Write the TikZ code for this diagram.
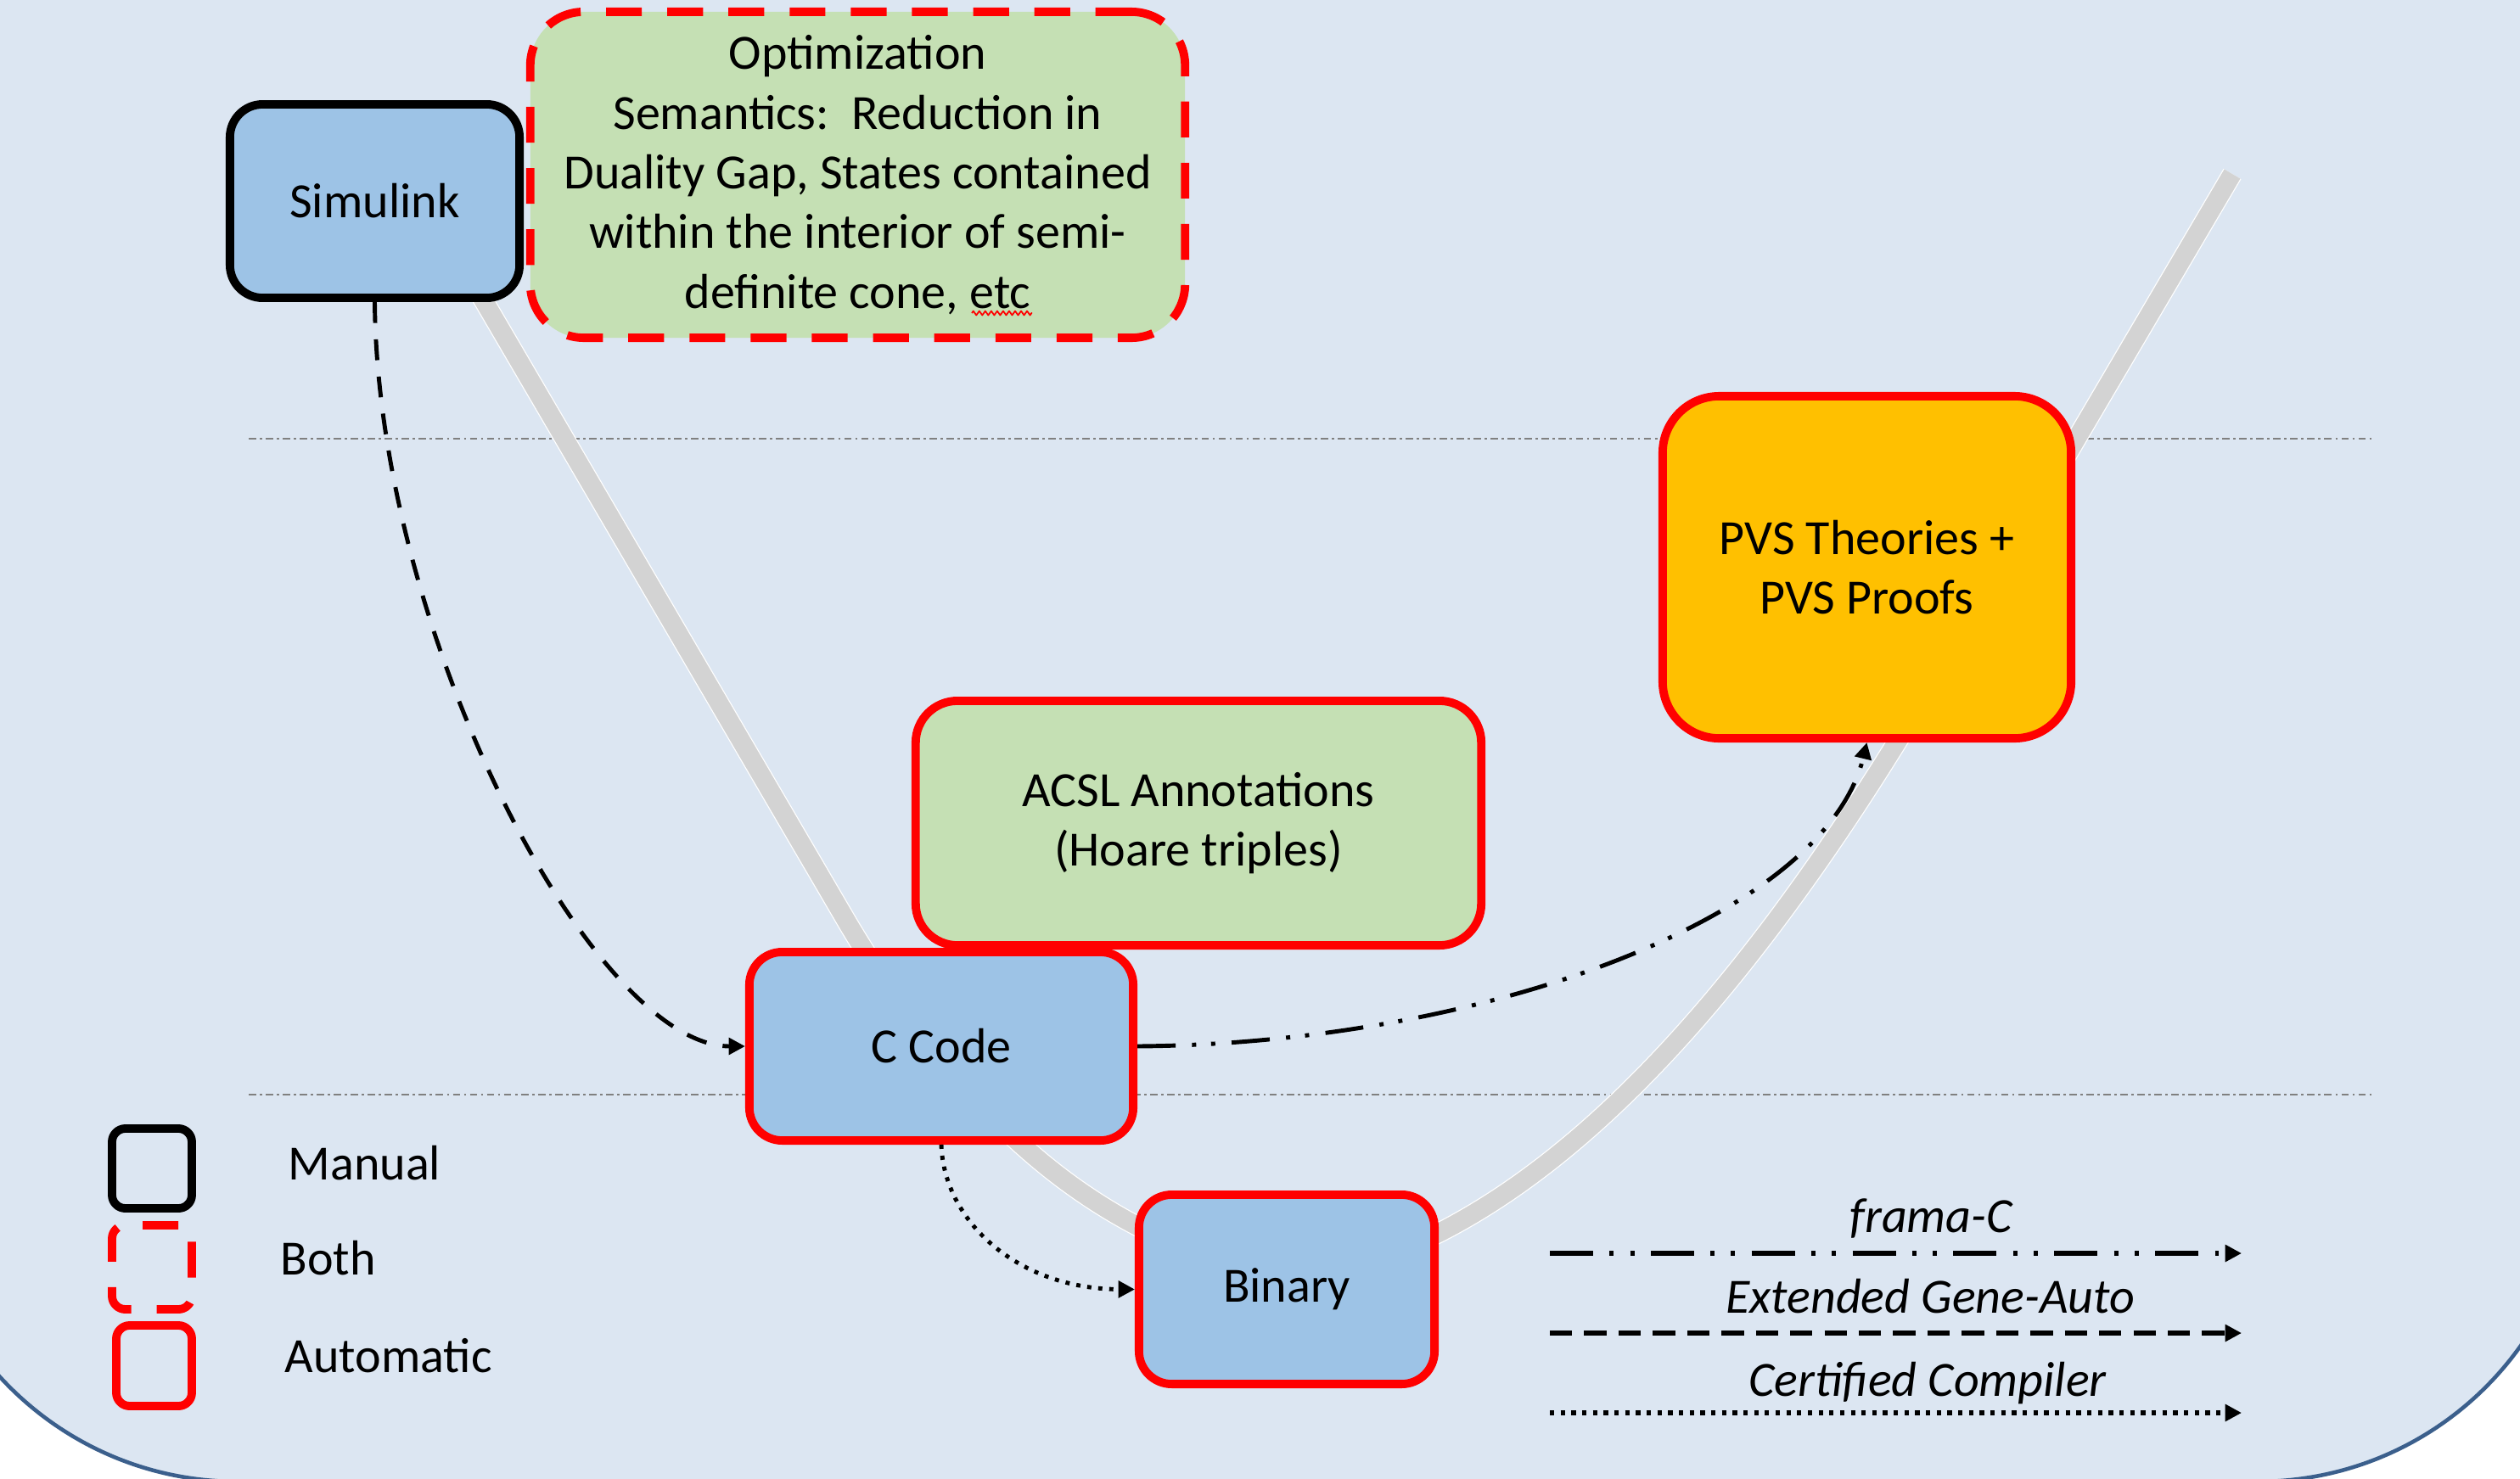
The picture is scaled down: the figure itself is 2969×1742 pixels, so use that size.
\documentclass[tikz,border=0pt]{standalone}
\usepackage{fontspec}
\setmainfont{Carlito}
\usetikzlibrary{arrows.meta,decorations.pathmorphing}

\definecolor{bgblue}{HTML}{DCE6F2}
\definecolor{bgedge}{HTML}{3B5F8C}
\definecolor{boxblue}{HTML}{9DC3E6}
\definecolor{boxgreen}{HTML}{C5E0B4}
\definecolor{boxorange}{HTML}{FFC000}
\definecolor{vgrey}{HTML}{D3D3D3}

\begin{document}
\begin{tikzpicture}[line join=round,x=0.01cm,y=-0.01cm,
    lbl/.style={font=\fontsize{16.5}{20}\selectfont,align=center,inner sep=0pt},
    box/.style={lbl,draw,line width=2.8pt},
    manualbox/.style={box,draw=black},
    autobox/.style={box,draw=red},
    bothbox/.style={box,draw=red,dash pattern=on 12pt off 8.5pt},
    tip/.style={-{Triangle[length=5.5pt,width=5.5pt]}},
    framac/.style={tip,line width=1.4pt,dash pattern=on 12.8pt off 5.5pt on 1.4pt off 5pt on 1.4pt off 5.5pt},
    geneauto/.style={tip,line width=1.4pt,dash pattern=on 7pt off 5.5pt},
    certif/.style={tip,line width=1.4pt,dash pattern=on 1.4pt off 2.3pt},
    legline/.style={line width=1.6pt},
    guide/.style={gray,line width=0.6pt,dash pattern=on 2.5pt off 1.2pt on 0.8pt off 1.2pt}]
  \useasboundingbox (0,0) rectangle (2969,1742);
  \clip (0,0) rectangle (2969,1742);
  % background
  \fill[white] (0,0) rectangle (2969,1742);
  \draw[bgedge,line width=1.3pt,fill=bgblue,rounded corners=3.8cm] (-100,-400) rectangle (3040,1746);
  % levels
  \draw[guide] (293,517)--(2797,517);
  \draw[guide] (293,1290)--(2797,1290);
  % V
  \draw[white,line width=6.9pt] (530,286)--(1000,1090) .. controls (1150,1340) and (1300,1460) .. (1520,1510)
    .. controls (1800,1470) and (2050,1190) .. (2280,800)--(2630,205);
  \draw[vgrey,line width=6.2pt] (530,286)--(1000,1090) .. controls (1150,1340) and (1300,1460) .. (1520,1510)
    .. controls (1800,1470) and (2050,1190) .. (2280,800)--(2630,205);

  % boxes
  \node[manualbox,fill=boxblue,minimum width=3.41cm,minimum height=2.28cm,rounded corners=11pt] (sim) at (441.5,237) {Simulink};
  \node[bothbox,fill=boxgreen,minimum width=7.71cm,minimum height=3.84cm,rounded corners=18pt] (opt) at (1010.5,206)
    {\raisebox{-1.5pt}{\parbox{7.5cm}{\centering Optimization\\Semantics:~~Reduction in\\Duality Gap, States contained\\within the interior of semi-\\definite cone, etc}}};
  \draw[red,line width=0.5pt,decorate,decoration={zigzag,amplitude=0.7pt,segment length=2pt}] (1145,369)--(1216,369);
  \node[autobox,fill=boxgreen,minimum width=6.66cm,minimum height=2.88cm,rounded corners=14pt] (acsl) at (1412,970)
    {\raisebox{-1pt}{\parbox{6cm}{\centering ACSL Annotations\\(Hoare triples)}}};
  \node[autobox,fill=boxblue,minimum width=4.52cm,minimum height=2.22cm,rounded corners=11pt] (ccode) at (1109,1233) {C Code};
  \node[autobox,fill=boxorange,minimum width=4.81cm,minimum height=4.03cm,rounded corners=19pt] (pvs) at (2199.5,668.5)
    {PVS Theories +\\PVS Proofs};
  \node[autobox,fill=boxblue,minimum width=3.48cm,minimum height=2.23cm,rounded corners=11pt] (bin) at (1516,1519.5) {Binary};

  % connectors
  \draw[geneauto] (sim.south) .. controls (445,750) and (700,1233) .. (ccode.west);
  \draw[framac] (ccode.east) .. controls (1750,1230) and (2150,1080) .. (pvs.south);
  \draw[certif] (ccode.south) .. controls (1112,1440) and (1200,1519) .. (bin.west);

  % legend
  \node[manualbox,minimum width=0.94cm,minimum height=0.94cm,rounded corners=4.5pt] (kman) at (179,1377) {};
  \node[bothbox,minimum width=0.94cm,minimum height=0.99cm,rounded corners=4.5pt] (kboth) at (179,1493.5) {};
  \node[autobox,minimum width=0.89cm,minimum height=0.95cm,rounded corners=4.5pt] (kauto) at (181.5,1609.5) {};
  \node[lbl,anchor=base west] (lman) at (339,1390) {Manual};
  \node[lbl,anchor=base west] (lboth) at (330,1502) {Both};
  \node[lbl,anchor=base west] (lauto) at (335,1617) {Automatic};

  \coordinate (fa) at (1826,1477); \coordinate (fb) at (2641,1477);
  \coordinate (ga) at (1826,1571); \coordinate (gb) at (2641,1571);
  \coordinate (ca) at (1826,1665); \coordinate (cb) at (2641,1665);
  \draw[framac,legline,dash pattern=on 14.5pt off 5.5pt on 1.4pt off 5.5pt on 1.4pt off 5.5pt] (fa)--(fb);
  \draw[geneauto,legline,dash pattern=on 7.5pt off 4pt] (ga)--(gb);
  \draw[certif,legline,dash pattern=on 1.5pt off 2.1pt] (ca)--(cb);
  \node[lbl,font=\fontsize{16.5}{20}\selectfont\itshape,anchor=base] (lfr) at (2275,1452) {frama-C};
  \node[lbl,font=\fontsize{16.5}{20}\selectfont\itshape,anchor=base] (lge) at (2274,1547) {Extended Gene-Auto};
  \node[lbl,font=\fontsize{16.5}{20}\selectfont\itshape,anchor=base] (lcc) at (2271,1645) {Certified Compiler};
\end{tikzpicture}
\end{document}
